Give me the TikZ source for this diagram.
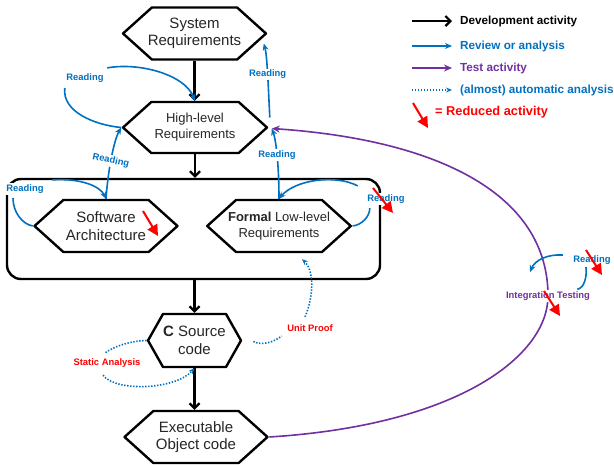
\documentclass[tikz,border=0pt]{standalone}
\usepackage{fontspec}
\setmainfont{Liberation Sans}
\usetikzlibrary{arrows.meta,shapes.symbols,calc}
\definecolor{revblue}{RGB}{0,112,192}
\definecolor{testpurple}{RGB}{112,48,160}
\definecolor{redmark}{RGB}{255,0,0}

\begin{document}
\begin{tikzpicture}[x=1pt, y=-1pt, line join=round]

	\tikzset{
	  apply style/.code   = {\tikzset{#1}},
	  hexa/.style         = {shape=signal, signal to=west and east, signal pointer angle=84,
	                         draw=black, line width=2.4pt, fill=white, align=center,
	                         inner ysep=0pt, inner xsep=-8pt,
	                         minimum width=143pt, minimum height=52pt, text=black!85,
	                         font=\fontsize{15}{17.5}\selectfont},
	  smallhexa/.style    = {hexa, font=\fontsize{13}{16}\selectfont},
	  archframe/.style    = {draw=black, line width=2.4pt, rounded corners=14pt,
	                         minimum width=373pt, minimum height=100pt},
	  devarrow/.style     = {draw=black, line width=2.2pt, -{Straight Barb[length=5pt,width=10pt]}},
	  review/.style       = {draw=revblue, line width=1.6pt},
	  reviewarrow/.style  = {review, -{Stealth[length=7pt,width=6pt]}},
	  testarrow/.style    = {draw=testpurple, line width=1.6pt, -{Stealth[length=8pt,width=7pt]}},
	  autoline/.style     = {draw=revblue, line width=1.6pt, dash pattern=on 1.4pt off 1.6pt},
	  autoarrow/.style    = {autoline, -{Stealth[length=6pt,width=5pt]}},
	  reduced/.style      = {draw=redmark, line width=2pt, -{Triangle[length=11pt,width=11pt]}},
	  reading/.style      = {fill=white, text=revblue, inner sep=1.5pt,
	                         font=\fontsize{9.4}{11}\selectfont\bfseries},
	  autolabel/.style    = {reading, text=redmark},
	  testlabel/.style    = {reading, text=testpurple},
	  legendtext/.style   = {anchor=west, inner sep=2pt, font=\fontsize{11.7}{14}\selectfont\bfseries}
	}

	\useasboundingbox (0,0) rectangle (614,464);

	% architecture frame and the hexagon boxes
	\node[archframe] (arch) at (193.5,229) {};
	\node[hexa] (sr) at (194.5,33.5) {System\\Requirements};
	\node[smallhexa, minimum width=144pt, minimum height=51pt] (hl) at (195,127.5) {High-level\\Requirements};
	\node[hexa] (sa) at (106,226) {Software\\Architecture};
	\node[smallhexa, minimum width=142pt] (ll) at (279,226) {\textbf{Formal} Low-level\\Requirements};
	\node[hexa, minimum width=93pt, minimum height=53pt, signal pointer angle=121] (cs) at (194.5,340.5) {\textbf{C} Source\\code};
	\node[hexa] (eo) at (196,437) {Executable\\Object code};

	% development
	\draw[devarrow] (sr.south) -- (sr.south |- hl.north);
	\draw[devarrow] (hl.south) -- (hl.south |- arch.north);
	\draw[devarrow] (cs.north |- arch.south) -- (cs.north);
	\draw[devarrow] (cs.south) -- (cs.south |- eo.north);

	% reviews
	\node[reading] (rdA) at (85,78) {Reading};
	\draw[review] (hl.west) .. controls (95,125) and (62,112) .. ($(rdA.south west)+(0,4)$);
	\draw[reviewarrow] ($(rdA.north east)+(2,-4)$) .. controls (140,62) and (185,75) .. (hl.north);

	\draw[reviewarrow] ($(hl.east)+(1,-10)$) .. controls (268,80) and (267,55) .. ($(sr.east)+(-4,10)$)
	    node[reading, pos=0.45] (rdB) {Reading};
	\draw[reviewarrow] (sa.north) .. controls (108,170) and (114,140) .. (hl.west)
	    node[reading, rotate=-12, pos=0.45] (rdC) {Reading};
	\draw[reviewarrow] (ll.north) .. controls (279,165) and (276,140) .. ($(hl.east)+(3,1)$)
	    node[reading, pos=0.5] (rdD) {Reading};

	\node[reading] (rdE) at (25,189) {Reading};
	\draw[review] (sa.west) .. controls (22,224) and (13,212) .. ($(rdE.south)+(-12,3)$);
	\draw[reviewarrow] ($(rdE.north east)+(7,-3)$) .. controls (80,178) and (100,186) .. (sa.north);

	\node[reading] (rdF) at (386,199) {Reading};
	\draw[review] (ll.east) .. controls (362,225) and (370,216) .. ($(rdF.south west)+(4,3)$);
	\draw[reviewarrow] ($(rdF.north west)+(-8,-7)$) .. controls (335,174) and (295,180) .. (ll.north);

	% (almost) automatic
	\node[autolabel] (stat) at (107,363) {Static Analysis};
	\draw[autoline] (cs.west) .. controls (130,341) and (115,346) .. ($(stat.north)+(-2,-4)$);
	\draw[autoarrow] ($(stat.south)+(-4,6)$) .. controls (115,392) and (175,390) .. (cs.south);

	\node[autolabel] (unit) at (310,328) {Unit Proof};
	\draw[autoline] ($(cs.east)+(11,1)$) .. controls (262,346) and (274,342) .. ($(unit.west)+(-4,8)$);
	\draw[autoarrow] ($(unit.north)+(-5,-6)$) .. controls (314,296) and (314,270) .. ($(ll.south)+(23,6)$);

	% test
	\draw[testarrow] (eo.east) .. controls (460,425) and (548,355) .. (548,296)
	    node[testlabel] (it) {Integration Testing}
	    .. controls (548,195) and (440,140) .. ($(hl.east)+(3,1)$);

	\coordinate (itIn) at (530,272);
	\node[reading] (rdG) at (592,260) {Reading};
	\draw[review] ($(it.north east)+(-15,0)$) .. controls (584,288) and (587,278) .. ($(rdG.south)+(-6,1)$);
	\draw[reviewarrow] ($(rdG.west)+(-9,-5)$) .. controls (548,254) and (535,260) .. (itIn);

	% reduced activities
	\foreach \px/\py/\dx in {143/211/15, 373/188/20, 586/250/16, 544/291/16, 413/103/15}{
	    \draw[reduced] (\px,\py) -- ++(\dx,25);
	}

	% legend
	\foreach \ly/\lstyle/\lcol/\ltext in {
	    21/devarrow/black/Development activity,
	    46/reviewarrow/revblue/Review or analysis,
	    68/testarrow/testpurple/Test activity,
	    90/autoarrow/revblue/(almost) automatic analysis
	}{
	    \draw[apply style/.expand once=\lstyle] (412,\ly) -- (452,\ly);
	    \node[legendtext, text=\lcol] (lg\ly) at (458,\ly) {\ltext};
	}
	\node[legendtext, text=redmark, font=\fontsize{12.8}{15}\selectfont\bfseries] (lgred) at (433,112) {= Reduced activity};

\end{tikzpicture}
\end{document}
